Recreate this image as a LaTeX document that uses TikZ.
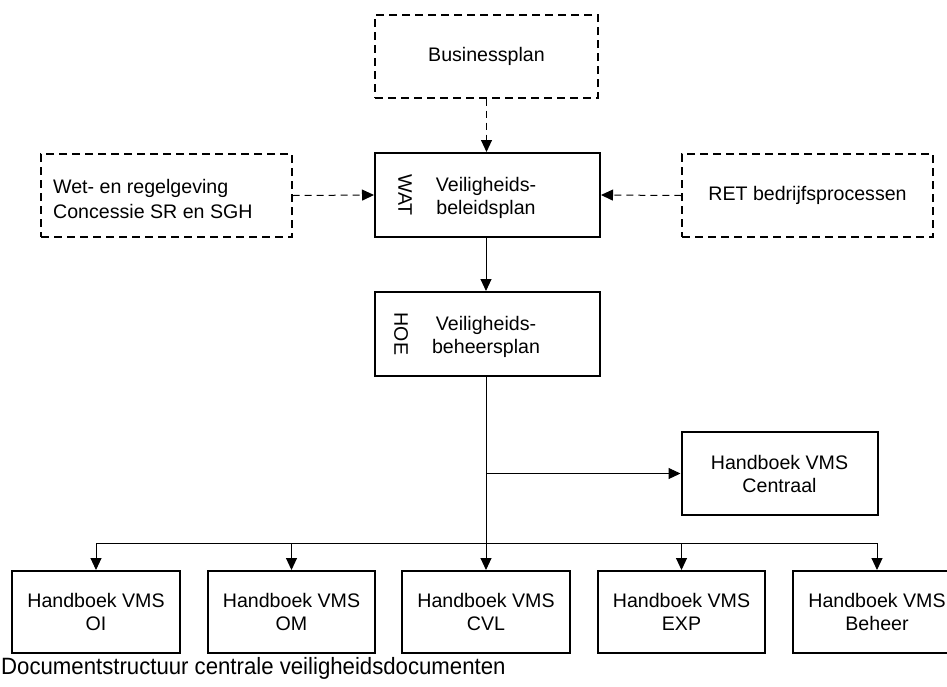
\documentclass[tikz,border=0pt]{standalone}
\usepackage{fontspec}
\setmainfont{Liberation Sans}
\newfontfamily\capfont{Liberation Sans}[FakeStretch=0.94]
\usetikzlibrary{arrows.meta}

\tikzset{
  doc/.style={draw, line width=2pt, rectangle, align=center, inner sep=0pt,
    font=\fontsize{19.6}{23}\selectfont},
  src/.style={draw, line width=1.3pt, dash pattern=on 8pt off 5pt, rectangle,
    align=center, inner sep=0pt, font=\fontsize{19.6}{23}\selectfont},
  side/.style={rotate=-90, inner sep=0pt, font=\fontsize{19.6}{23}\selectfont},
  link/.style={line width=1pt, -{Triangle[length=12pt,width=11pt]}},
  dlink/.style={link, dash pattern=on 7pt off 5pt},
}

\begin{document}
\begin{tikzpicture}[x=1pt, y=-1pt]
  \useasboundingbox (0,0) rectangle (947,686);
  \clip (0,0) rectangle (947,686);

  % input documents (dashed)
  \node[src, minimum width=223pt, minimum height=83pt] (biz) at (486.5,56.5) {Businessplan};
  \node[src, minimum width=251pt, minimum height=83pt] (wet) at (166.5,195.5) {};
  \node[anchor=west, align=left, inner sep=0pt, font=\fontsize{19.6}{25}\selectfont]
    (wettxt) at (53,199) {Wet- en regelgeving\\Concessie SR en SGH};
  \node[src, minimum width=251pt, minimum height=83pt] (ret) at (807.5,195.5) {RET bedrijfsprocessen};

  % policy and management plans
  \node[doc, minimum width=225pt, minimum height=84pt] (wat) at (487.5,195) {};
  \node[align=center, inner sep=0pt, font=\fontsize{19.6}{23}\selectfont]
    (wattxt) at (486,198) {Veiligheids-\\beleidsplan};
  \node[side] (watlbl) at (405,195) {WAT};

  \node[doc, minimum width=225pt, minimum height=84pt] (hoe) at (487.5,334) {};
  \node[align=center, inner sep=0pt, font=\fontsize{19.6}{23}\selectfont]
    (hoetxt) at (486,337) {Veiligheids-\\beheersplan};
  \node[side] (hoelbl) at (401,334) {HOE};

  % handbooks
  \node[doc, minimum width=196pt, minimum height=83pt] (cen) at (779.5,473.5) {Handboek VMS\\Centraal};
  \node[doc, minimum width=168pt, minimum height=82pt] (b1) at (96,612) {Handboek VMS\\OI};
  \node[doc, minimum width=167pt, minimum height=82pt] (b2) at (291.5,612) {Handboek VMS\\OM};
  \node[doc, minimum width=168pt, minimum height=82pt] (b3) at (486,612) {Handboek VMS\\CVL};
  \node[doc, minimum width=167pt, minimum height=82pt] (b4) at (681.5,612) {Handboek VMS\\EXP};
  \node[doc, minimum width=168pt, minimum height=82pt] (b5) at (877,612) {Handboek VMS\\Beheer};

  % connectors
  \draw[dlink] (biz.south) -- (wat.north -| biz.south);
  \draw[dlink] (wet.east) -- (wat.west);
  \draw[dlink] (ret.west) -- (wat.east);
  \draw[link] (wat.south -| b3.north) -- (hoe.north -| b3.north);

  \coordinate (bus) at (486,543);
  \coordinate (tap) at (486,473.5);
  \draw[link] (hoe.south -| b3.north) -- (b3.north);
  \draw[link] (tap) -- (cen.west);
  \draw[line width=1pt] (b1.north |- bus) -- (b5.north |- bus);
  \foreach \b in {b1,b2,b4,b5}
    \draw[link] (\b.north |- bus) -- (\b.north);

  % caption
  \node[anchor=base west, inner sep=0pt, font=\capfont\fontsize{23.6}{26}\selectfont]
    (cap) at (1,674) {Documentstructuur centrale veiligheidsdocumenten};
\end{tikzpicture}
\end{document}
